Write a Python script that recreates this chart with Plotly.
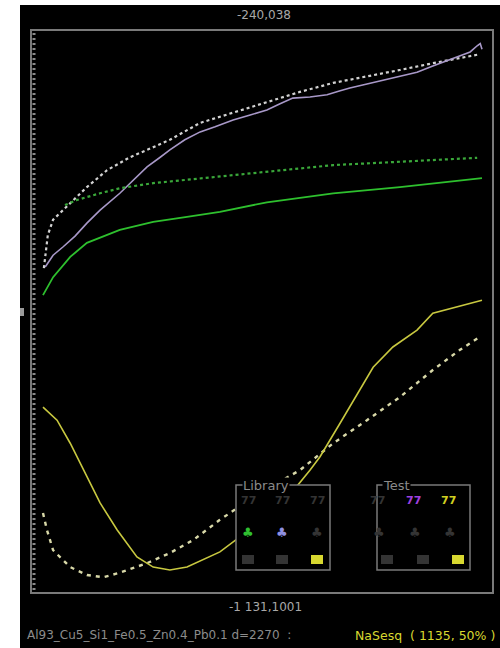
import plotly.graph_objects as go

# ---------------- data ----------------
purple_x = [0.5, 2.3, 4.6, 7.3, 10.0, 13.0, 17.5, 21.0, 23.7, 26.7, 28.9, 32.3, 35.8, 39.2, 43.3,
            47.2, 51.0, 54.0, 56.9, 60.8, 64.7, 67.7, 69.9, 73.8, 77.4, 81.3, 85.2, 88.8, 92.7,
            95.4, 97.3, 98.9, 99.6, 100.0]
purple_y = [57.9, 60.0, 61.5, 63.4, 65.7, 68.0, 71.0, 73.7, 75.7, 77.4, 78.7, 80.5, 81.9, 82.8, 84.0,
            84.9, 85.8, 86.9, 87.9, 88.1, 88.5, 89.2, 89.7, 90.4, 91.1, 91.8, 92.5, 93.6, 94.7,
            95.6, 96.1, 97.2, 97.6, 96.6]

white_x = [0.2, 0.7, 1.1, 2.3, 4.6, 7.7, 10.0, 14.6, 19.8, 23.7, 28.9, 35.8, 43.3, 51.0, 58.5,
           66.1, 73.8, 81.3, 88.8, 96.5, 98.9, 99.5]
white_y = [57.7, 60.9, 63.6, 66.3, 68.0, 70.3, 72.1, 75.1, 77.4, 78.7, 80.5, 83.5, 85.3, 87.2, 89.0,
           90.6, 91.7, 92.9, 94.1, 95.2, 95.6, 95.4]

gdash_x = [5.0, 7.7, 13.0, 17.5, 25.1, 32.8, 40.3, 51.0, 66.1, 81.3, 98.9]
gdash_y = [68.9, 69.8, 71.0, 71.9, 72.8, 73.4, 73.9, 74.8, 76.0, 76.6, 77.3]

green_x = [0.0, 2.3, 6.2, 10.0, 17.5, 25.1, 32.8, 40.3, 51.0, 66.1, 81.3, 100.0]
green_y = [52.9, 56.1, 59.7, 62.2, 64.5, 65.9, 66.8, 67.7, 69.4, 71.0, 72.1, 73.7]

yel_x = [0.0, 3.2, 6.2, 10.0, 13.0, 16.9, 21.4, 25.1, 28.9, 32.8, 36.4, 40.3, 47.8, 54.0, 60.8,
         63.1, 67.7, 72.2, 75.2, 79.7, 85.2, 88.8, 94.3, 100.0]
yel_y = [33.0, 30.7, 26.6, 20.6, 16.0, 11.2, 6.4, 4.6, 4.1, 4.6, 5.9, 7.3, 11.7, 15.3, 21.8,
         24.2, 30.2, 36.1, 40.1, 43.7, 46.7, 49.7, 50.8, 52.0]

ydash_x = [0.0, 0.9, 2.3, 6.2, 10.0, 13.7, 17.5, 23.7, 28.9, 34.2, 40.3, 49.4, 58.5, 66.1, 73.8,
           81.3, 88.8, 95.0, 99.5]
ydash_y = [14.2, 11.2, 7.6, 4.6, 3.2, 2.8, 3.6, 5.3, 7.1, 9.4, 13.0, 17.8, 21.8, 26.6, 30.7,
           34.8, 39.6, 43.2, 45.5]

top_label = "-240,038"
bottom_label = "-1 131,1001"
caption_left = "Al93_Cu5_Si1_Fe0.5_Zn0.4_Pb0.1 d=2270  :"
caption_right = "NaSesq  ( 1135, 50% )"
library_title = "Library"
test_title = "Test"

# ---------------- layout helpers (pixel -> paper) ----------------
W, H = 500, 648
L, R, T, B = 31, 493, 30, 593


def px(x):
    return (x - L) / (R - L)


def py(y):
    return (B - y) / (B - T)


fig = go.Figure()

fig.add_trace(go.Scatter(x=white_x, y=white_y, mode="lines",
                         line=dict(color="#d2d2d2", width=2.2, dash="3px,3px")))
fig.add_trace(go.Scatter(x=purple_x, y=purple_y, mode="lines",
                         line=dict(color="#a898c8", width=1.6)))
fig.add_trace(go.Scatter(x=gdash_x, y=gdash_y, mode="lines",
                         line=dict(color="#3aa83a", width=2.2, dash="3px,3px")))
fig.add_trace(go.Scatter(x=green_x, y=green_y, mode="lines",
                         line=dict(color="#2ec02e", width=1.8)))
fig.add_trace(go.Scatter(x=ydash_x, y=ydash_y, mode="lines",
                         line=dict(color="#d8d8a8", width=2.4, dash="4px,5px")))
fig.add_trace(go.Scatter(x=yel_x, y=yel_y, mode="lines",
                         line=dict(color="#c8c840", width=1.6)))

shapes = []
# white strips around the black panel
shapes.append(dict(type="rect", xref="paper", yref="paper", x0=px(0), x1=px(20), y0=py(H), y1=py(0),
                   fillcolor="white", line=dict(width=0), layer="below"))
shapes.append(dict(type="rect", xref="paper", yref="paper", x0=px(0), x1=px(W), y0=py(5), y1=py(0),
                   fillcolor="white", line=dict(width=0), layer="below"))
# frame
shapes.append(dict(type="rect", xref="paper", yref="paper", x0=0, x1=1, y0=0, y1=1,
                   line=dict(color="#7a7a7a", width=2), fillcolor="rgba(0,0,0,0)"))
# left ruler
shapes.append(dict(type="line", xref="paper", yref="paper", x0=px(34), x1=px(34), y0=py(590), y1=py(33),
                   line=dict(color="#8a8a8a", width=3, dash="2px,3px")))
# left small marker
shapes.append(dict(type="rect", xref="paper", yref="paper", x0=px(20), x1=px(24), y0=py(316), y1=py(308),
                   fillcolor="#9a9a9a", line=dict(width=0)))
# legend boxes
for x0, x1 in [(236, 330), (377, 470)]:
    shapes.append(dict(type="rect", xref="paper", yref="paper", x0=px(x0), x1=px(x1), y0=py(570), y1=py(485),
                       line=dict(color="#7a7a7a", width=1.5), fillcolor="black"))

annotations = []
annotations.append(dict(text=top_label, xref="paper", yref="paper", x=px(264), y=py(15),
                        yanchor="middle", showarrow=False,
                        font=dict(family="DejaVu Sans", size=12, color="#a8a8a8")))
annotations.append(dict(text=bottom_label, xref="paper", yref="paper", x=px(265), y=py(607),
                        yanchor="middle", showarrow=False,
                        font=dict(family="DejaVu Sans", size=12, color="#a8a8a8")))
annotations.append(dict(text=caption_left, xref="paper", yref="paper", x=px(25), y=py(635),
                        xanchor="left", yanchor="middle", showarrow=False,
                        font=dict(family="DejaVu Sans", size=12, color="#8c8c8c")))
annotations.append(dict(text=caption_right, xref="paper", yref="paper", x=px(497), y=py(635),
                        xanchor="right", yanchor="middle", showarrow=False,
                        font=dict(family="DejaVu Sans", size=12.5, color="#d8d830")))
for title, x in [(library_title, 242), (test_title, 382)]:
    annotations.append(dict(text=title, xref="paper", yref="paper", x=px(x), y=py(485),
                            xanchor="left", yanchor="middle", showarrow=False, bgcolor="black", borderpad=0,
                            font=dict(family="DejaVu Sans", size=13, color="#8a8a8a")))

dim = "#343434"
cols_lib = [248, 282, 317]
cols_test = [387, 423, 458]
row1 = {"lib": [dim, dim, dim], "test": [dim, "#a040e0", "#d0d020"]}
row2 = {"lib": ["#30c030", "#9090e0", dim], "test": [dim, dim, dim]}
row3 = {"lib": [dim, dim, "#d8d830"], "test": [dim, dim, "#d8d830"]}
for key, cols in [("lib", cols_lib), ("test", cols_test)]:
    for i, cx in enumerate(cols):
        annotations.append(dict(text="<b>77</b>", xref="paper", yref="paper", x=px(cx), y=py(500),
                                yanchor="middle", showarrow=False,
                                font=dict(family="DejaVu Sans", size=11, color=row1[key][i])))
        annotations.append(dict(text="♣", xref="paper", yref="paper", x=px(cx), y=py(532),
                                yanchor="middle", showarrow=False,
                                font=dict(family="DejaVu Sans", size=13, color=row2[key][i])))
        shapes.append(dict(type="rect", xref="paper", yref="paper", x0=px(cx - 6), x1=px(cx + 6),
                           y0=py(564), y1=py(555), fillcolor=row3[key][i], line=dict(width=0)))

fig.update_layout(
    width=W, height=H,
    margin=dict(l=L, r=W - R, t=T, b=H - B, pad=0),
    paper_bgcolor="black", plot_bgcolor="black",
    showlegend=False,
    xaxis=dict(visible=False, range=[(L - 43) / 4.39, (R - 43) / 4.39]),
    yaxis=dict(visible=False, range=[0, 100]),
    shapes=shapes, annotations=annotations,
)

fig.write_html("out.html", config={"displayModeBar": False},
               post_script="document.body.style.margin='0px';")
